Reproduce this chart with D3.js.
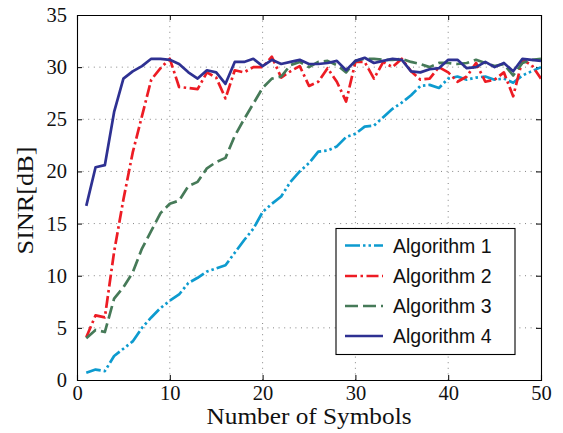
<!DOCTYPE html>
<html><head><meta charset="utf-8">
<script src="https://cdn.jsdelivr.net/npm/d3@7"></script>
<style>body{margin:0;background:#fff}svg{display:block}</style>
</head><body>
<svg id="c" width="563" height="433"></svg>
<script>
const symbols = d3.range(1, 51);
const alg1 = [0.7,1.0,0.85,2.3,3.0,3.7,5.0,6.0,6.9,7.6,8.2,9.3,9.8,10.4,10.7,11.0,12.2,13.4,14.5,16.1,16.9,17.6,19.0,20.0,20.8,21.9,22.0,22.4,23.3,23.6,24.3,24.4,25.2,26.0,26.6,27.3,28.2,28.3,28.0,28.9,29.1,28.8,29.0,29.1,28.8,28.9,28.5,29.2,29.6,30.0];
const alg2 = [4.1,6.2,6.0,12.3,17.3,21.8,25.3,28.8,29.9,30.8,28.1,28.0,27.9,29.5,29.0,27.0,29.7,29.5,30.0,30.0,31.0,29.0,29.6,30.1,28.2,28.6,29.9,28.6,26.7,30.5,30.5,28.9,30.5,30.0,30.8,29.6,28.8,28.9,30.0,29.5,28.6,29.1,30.4,28.6,28.8,29.5,27.2,30.7,30.2,28.9];
const alg3 = [4.0,4.8,4.6,7.8,8.9,10.3,12.6,14.3,16.0,16.9,17.2,18.6,19.0,20.3,20.9,21.3,23.4,25.0,26.5,28.0,28.9,29.1,30.2,30.5,30.0,30.5,30.6,30.2,29.5,30.6,30.8,30.8,30.7,30.7,30.8,30.5,30.3,30.0,30.4,30.4,30.3,30.4,30.7,30.4,30.1,30.3,29.2,30.4,30.7,30.8];
const alg4 = [16.7,20.4,20.6,25.7,28.9,29.6,30.1,30.8,30.8,30.7,30.3,29.5,28.9,29.7,29.5,28.4,30.5,30.5,30.8,30.1,30.7,30.3,30.5,30.7,30.3,30.3,30.4,30.6,29.7,30.6,30.9,30.4,30.6,30.8,30.7,29.6,29.5,29.8,29.9,30.7,30.7,29.9,30.0,30.5,30.0,30.4,29.6,30.8,30.7,30.6];
const seriesNames = ["Algorithm 1","Algorithm 2","Algorithm 3","Algorithm 4"];
const xTicks = [0,10,20,30,40,50];
const yTicks = [0,5,10,15,20,25,30,35];
const xLabel = "Number of Symbols";
const yLabel = "SINR[dB]";

const colors = ["#0d9bcf","#ed1c24","#467a58","#2e3192"];
const dashes = ["15,3,2.5,3,2.5,3","12,3.5,2.5,3.5","13,5",null];

const L = 77, R = 541, T = 15, B = 380;
const svg = d3.select("#c");
const x = d3.scaleLinear().domain([0,50]).range([L,R]);
const y = d3.scaleLinear().domain([0,35]).range([B,T]);

// grid
const g = svg.append("g");
g.selectAll(".gx").data(xTicks.slice(1,-1)).join("line")
  .attr("x1",d=>x(d)).attr("x2",d=>x(d)).attr("y1",T).attr("y2",B)
  .attr("stroke","#777").attr("stroke-width",0.9).attr("stroke-dasharray","1,4.6");
g.selectAll(".gy").data(yTicks.slice(1,-1)).join("line")
  .attr("y1",d=>y(d)).attr("y2",d=>y(d)).attr("x1",L).attr("x2",R)
  .attr("stroke","#777").attr("stroke-width",0.9).attr("stroke-dasharray","1,4.6");

// axes
const serif = "'Liberation Serif','Times New Roman',serif";
const ax = svg.append("g").attr("transform",`translate(0,${B})`)
  .call(d3.axisBottom(x).tickValues(xTicks).tickSize(-5).tickPadding(5.5).tickFormat(d3.format("d")));
const axT = svg.append("g").attr("transform",`translate(0,${T})`)
  .call(d3.axisTop(x).tickValues(xTicks).tickSize(-5).tickFormat(""));
const ay = svg.append("g").attr("transform",`translate(${L},0)`)
  .call(d3.axisLeft(y).tickValues(yTicks).tickSize(-5).tickPadding(10).tickFormat(d3.format("d")));
const ayR = svg.append("g").attr("transform",`translate(${R},0)`)
  .call(d3.axisRight(y).tickValues(yTicks).tickSize(-5).tickFormat(""));
[ax,axT,ay,ayR].forEach(a=>{
  a.select(".domain").attr("stroke","#000").attr("stroke-width",1.1);
  a.selectAll(".tick line").attr("stroke","#000").attr("stroke-width",1);
  a.selectAll("text").attr("font-family",serif).attr("font-size",20.5).attr("fill","#111");
});

// lines
const line = d3.line().x((d,i)=>x(symbols[i])).y(d=>y(d));
const data = [alg1,alg2,alg3,alg4];
svg.append("clipPath").attr("id","cp").append("rect")
  .attr("x",L).attr("y",T).attr("width",R-L).attr("height",B-T);
svg.append("g").attr("clip-path","url(#cp)").selectAll("path").data(data).join("path")
  .attr("d",line).attr("fill","none")
  .attr("stroke",(d,i)=>colors[i]).attr("stroke-width",2.7)
  .attr("stroke-dasharray",(d,i)=>dashes[i]).attr("stroke-linejoin","round");

// labels
svg.append("text").attr("x",(L+R)/2).attr("y",423.5).attr("text-anchor","middle")
  .attr("font-family",serif).attr("font-size",22.5).attr("fill","#111")
  .attr("textLength",205).attr("lengthAdjust","spacingAndGlyphs").text(xLabel);
svg.append("text").attr("transform",`translate(33,${(T+B)/2+3}) rotate(-90)`).attr("text-anchor","middle")
  .attr("font-family",serif).attr("font-size",22.5).attr("fill","#111")
  .attr("textLength",108).attr("lengthAdjust","spacingAndGlyphs").text(yLabel);

// legend
const lg = svg.append("g");
lg.append("rect").attr("x",336).attr("y",228.5).attr("width",179).attr("height",126)
  .attr("fill","#fff").attr("stroke","#000").attr("stroke-width",1.1);
const rowY = [245.5,276,306,336];
seriesNames.forEach((name,i)=>{
  lg.append("line").attr("x1",345).attr("x2",383).attr("y1",rowY[i]).attr("y2",rowY[i])
    .attr("stroke",colors[i]).attr("stroke-width",2.7).attr("stroke-dasharray",dashes[i]);
  lg.append("text").attr("x",393).attr("y",rowY[i]).attr("dy","0.36em")
    .attr("font-family","'Liberation Sans',Arial,sans-serif").attr("font-size",19.5).attr("fill","#111").text(name);
});
</script>
</body></html>
